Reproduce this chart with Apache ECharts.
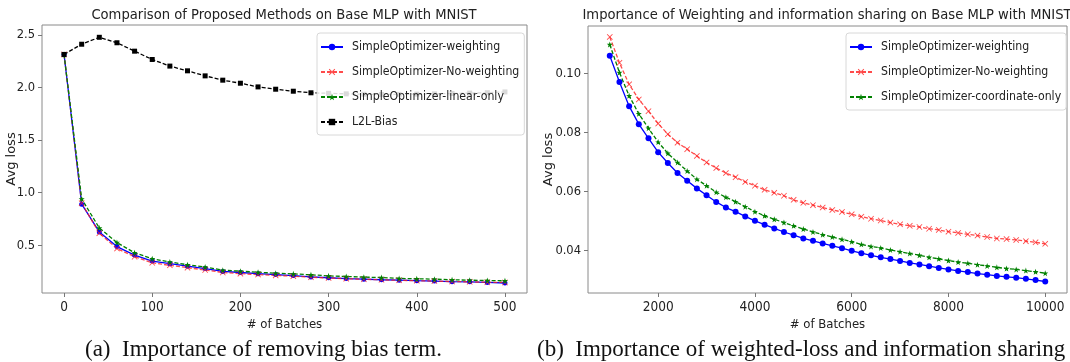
<!DOCTYPE html>
<html>
<head>
<meta charset="utf-8">
<script src="https://cdn.jsdelivr.net/npm/echarts@6/dist/echarts.min.js"></script>
<style>
  html, body { margin: 0; padding: 0; background: #fff; }
  #chart { width: 1070px; height: 362px; }
</style>
</head>
<body>
<div id="chart"></div>
<script>
// (a) bias term comparison, loss every 20 batches
const batchesA = [0, 20, 40, 60, 80, 100, 120, 140, 160, 180, 200, 220, 240, 260, 280, 300, 320, 340, 360, 380, 400, 420, 440, 460, 480, 500];
const weightingA = [2.315, 0.89, 0.626, 0.487, 0.406, 0.349, 0.324, 0.300, 0.277, 0.250, 0.240, 0.229, 0.220, 0.211, 0.198, 0.190, 0.182, 0.177, 0.171, 0.167, 0.162, 0.158, 0.153, 0.151, 0.146, 0.140];
const noWeightingA = [2.315, 0.90, 0.614, 0.468, 0.390, 0.333, 0.308, 0.286, 0.264, 0.240, 0.229, 0.220, 0.212, 0.205, 0.195, 0.188, 0.181, 0.176, 0.170, 0.166, 0.162, 0.158, 0.154, 0.151, 0.147, 0.145];
const linearOnlyA = [2.315, 0.94, 0.664, 0.525, 0.428, 0.371, 0.340, 0.314, 0.292, 0.262, 0.253, 0.242, 0.234, 0.227, 0.218, 0.208, 0.202, 0.196, 0.192, 0.184, 0.180, 0.177, 0.171, 0.167, 0.164, 0.161];
const l2lBiasA = [2.315, 2.412, 2.478, 2.426, 2.346, 2.267, 2.204, 2.159, 2.111, 2.070, 2.041, 2.006, 1.984, 1.965, 1.950, 1.945, 1.940, 1.936, 1.934, 1.935, 1.937, 1.940, 1.943, 1.947, 1.951, 1.958];
const ticksXA = [0, 100, 200, 300, 400, 500];
const ticksYA = [0.5, 1.0, 1.5, 2.0, 2.5];

// (b) weighting / information sharing, loss every 200 batches
const batchesB = [1000, 1200, 1400, 1600, 1800, 2000, 2200, 2400, 2600, 2800, 3000, 3200, 3400, 3600, 3800, 4000, 4200, 4400, 4600, 4800, 5000, 5200, 5400, 5600, 5800, 6000, 6200, 6400, 6600, 6800, 7000, 7200, 7400, 7600, 7800, 8000, 8200, 8400, 8600, 8800, 9000, 9200, 9400, 9600, 9800, 10000];
const weightingB = [0.1060, 0.0971, 0.0889, 0.0828, 0.0780, 0.0733, 0.0696, 0.0662, 0.0636, 0.0610, 0.0587, 0.0564, 0.0545, 0.0531, 0.0515, 0.0500, 0.0487, 0.0474, 0.0462, 0.0451, 0.0440, 0.0432, 0.0423, 0.0415, 0.0407, 0.0398, 0.0390, 0.0383, 0.0376, 0.0370, 0.0364, 0.0357, 0.0352, 0.0346, 0.0340, 0.0335, 0.0330, 0.0326, 0.0321, 0.0317, 0.0313, 0.0310, 0.0307, 0.0303, 0.0299, 0.0294];
const noWeightingB = [0.1124, 0.1036, 0.0963, 0.0912, 0.0872, 0.0830, 0.0794, 0.0765, 0.0743, 0.0720, 0.0698, 0.0679, 0.0662, 0.0648, 0.0632, 0.0619, 0.0605, 0.0595, 0.0585, 0.0571, 0.0561, 0.0553, 0.0545, 0.0537, 0.0530, 0.0522, 0.0514, 0.0507, 0.0501, 0.0494, 0.0488, 0.0483, 0.0479, 0.0473, 0.0469, 0.0463, 0.0459, 0.0454, 0.0450, 0.0445, 0.0440, 0.0438, 0.0435, 0.0431, 0.0427, 0.0422];
const coordOnlyB = [0.1098, 0.1003, 0.0924, 0.0863, 0.0814, 0.0767, 0.0729, 0.0698, 0.0669, 0.0641, 0.0619, 0.0597, 0.0580, 0.0565, 0.0548, 0.0531, 0.0517, 0.0505, 0.0494, 0.0483, 0.0472, 0.0462, 0.0453, 0.0445, 0.0437, 0.0429, 0.0420, 0.0413, 0.0408, 0.0401, 0.0395, 0.0389, 0.0383, 0.0376, 0.0371, 0.0365, 0.0360, 0.0356, 0.0351, 0.0347, 0.0342, 0.0338, 0.0335, 0.0331, 0.0327, 0.0322];
const ticksXB = [2000, 4000, 6000, 8000, 10000];
const ticksYB = [0.04, 0.06, 0.08, 0.10];

const NARROW = "'DejaVu Sans Condensed', 'DejaVu Sans', sans-serif";
const X_MARK = 'path://M1,0 L5,4 L9,0 L10,1 L6,5 L10,9 L9,10 L5,6 L1,10 L0,9 L4,5 L0,1 Z';
const STAR = 'path://M5,0 L6.2,3.6 L10,3.6 L7,5.9 L8.1,9.5 L5,7.3 L1.9,9.5 L3,5.9 L0,3.6 L3.8,3.6 Z';

function zip(xs, ys) {
  return xs.map(function (x, i) { return [x, ys[i]]; });
}

function xAxisFor(grid, min, max, ticks) {
  return {
    type: 'value', gridIndex: grid, min: min, max: max,
    name: '# of Batches', nameLocation: 'middle', nameGap: 25, nameMoveOverlap: false,
    nameTextStyle: { fontFamily: NARROW, fontSize: 13, color: '#222' },
    axisLine: { show: false, onZero: false },
    axisTick: { show: true, length: 4, lineStyle: { color: '#777' }, customValues: ticks },
    axisLabel: {
      fontFamily: NARROW, fontSize: 13.5, color: '#222', margin: 7, customValues: ticks,
      formatter: function (v) { return String(v); }
    },
    splitLine: { show: false }
  };
}

function yAxisFor(grid, min, max, ticks, digits, gap) {
  return {
    type: 'value', gridIndex: grid, min: min, max: max,
    name: 'Avg loss', nameLocation: 'middle', nameGap: gap, nameRotate: 90, nameMoveOverlap: false,
    nameTextStyle: { fontFamily: 'DejaVu Sans', fontSize: 13, color: '#222' },
    axisLine: { show: false, onZero: false },
    axisTick: { show: true, length: 4, lineStyle: { color: '#777' }, customValues: ticks },
    axisLabel: {
      fontFamily: NARROW, fontSize: 12.8, color: '#222', margin: 7, customValues: ticks,
      formatter: function (v) { return v.toFixed(digits); }
    },
    splitLine: { show: false }
  };
}

function lineSeries(name, xi, data, color, dashed, symbol, size) {
  return {
    name: name, type: 'line', xAxisIndex: xi, yAxisIndex: xi,
    data: data, symbol: symbol, symbolSize: size, showSymbol: true,
    lineStyle: { color: color, width: 1.3, type: dashed ? [4, 2] : 'solid' },
    itemStyle: { color: color },
    emphasis: { disabled: true }
  };
}

const legendBase = {
  orient: 'vertical',
  itemWidth: 22, itemHeight: 8, itemGap: 13,
  padding: [8, 5, 7, 3],
  backgroundColor: 'rgba(255,255,255,0.85)',
  borderColor: '#d8d8d8', borderWidth: 1, borderRadius: 3,
  textStyle: { fontFamily: NARROW, fontSize: 12.2, color: '#222', padding: [0, 0, 0, 4] }
};

const chart = echarts.init(document.getElementById('chart'));
chart.setOption({
  animation: false,
  backgroundColor: '#fff',
  title: [
    { text: 'Comparison of Proposed Methods on Base MLP with MNIST', left: 284, top: 8, padding: 0, textAlign: 'center',
      textStyle: { fontFamily: NARROW, fontSize: 14.6, fontWeight: 'normal', color: '#222' } },
    { text: 'Importance of Weighting and information sharing on Base MLP with MNIST', left: 827, top: 8, padding: 0, textAlign: 'center',
      textStyle: { fontFamily: NARROW, fontSize: 14.6, fontWeight: 'normal', color: '#222' } },
    { text: '(a)  Importance of removing bias term.', left: 85, top: 338, padding: 0,
      textStyle: { fontFamily: 'Liberation Serif', fontSize: 23, fontWeight: 'normal', color: '#111' } },
    { text: '(b)  Importance of weighted-loss and information sharing', left: 537, top: 338, padding: 0,
      textStyle: { fontFamily: 'Liberation Serif', fontSize: 23, fontWeight: 'normal', color: '#111' } }
  ],
  legend: [
    Object.assign({}, legendBase, {
      left: 317, top: 33,
      data: ['SimpleOptimizer-weighting', 'SimpleOptimizer-No-weighting', 'SimpleOptimizer-linear-only', 'L2L-Bias']
    }),
    Object.assign({}, legendBase, {
      left: 846, top: 33,
      data: ['SimpleOptimizer-weighting ', 'SimpleOptimizer-No-weighting ', 'SimpleOptimizer-coordinate-only']
    })
  ],
  grid: [
    { left: 42, top: 25, width: 485, height: 268, outerBoundsMode: 'none', containLabel: false,
      show: true, borderColor: '#8a8a8a', borderWidth: 1 },
    { left: 588, top: 26, width: 479, height: 267, outerBoundsMode: 'none', containLabel: false,
      show: true, borderColor: '#8a8a8a', borderWidth: 1 }
  ],
  xAxis: [
    xAxisFor(0, -25, 525, ticksXA),
    xAxisFor(1, 550, 10450, ticksXB)
  ],
  yAxis: [
    yAxisFor(0, 0.045, 2.595, ticksYA, 1, 24),
    yAxisFor(1, 0.0255, 0.1161, ticksYB, 2, 33)
  ],
  series: [
    lineSeries('SimpleOptimizer-weighting', 0, zip(batchesA, weightingA), '#0000ff', false, 'circle', 5),
    lineSeries('SimpleOptimizer-No-weighting', 0, zip(batchesA, noWeightingA), 'rgba(255,30,30,0.8)', true, X_MARK, 6),
    lineSeries('SimpleOptimizer-linear-only', 0, zip(batchesA, linearOnlyA), '#008000', true, STAR, 6),
    lineSeries('L2L-Bias', 0, zip(batchesA, l2lBiasA), '#000000', true, 'rect', 5),
    lineSeries('SimpleOptimizer-weighting ', 1, zip(batchesB, weightingB), '#0000ff', false, 'circle', 6),
    lineSeries('SimpleOptimizer-No-weighting ', 1, zip(batchesB, noWeightingB), 'rgba(255,30,30,0.8)', true, X_MARK, 6),
    lineSeries('SimpleOptimizer-coordinate-only', 1, zip(batchesB, coordOnlyB), '#008000', true, STAR, 6)
  ]
});
</script>
</body>
</html>
